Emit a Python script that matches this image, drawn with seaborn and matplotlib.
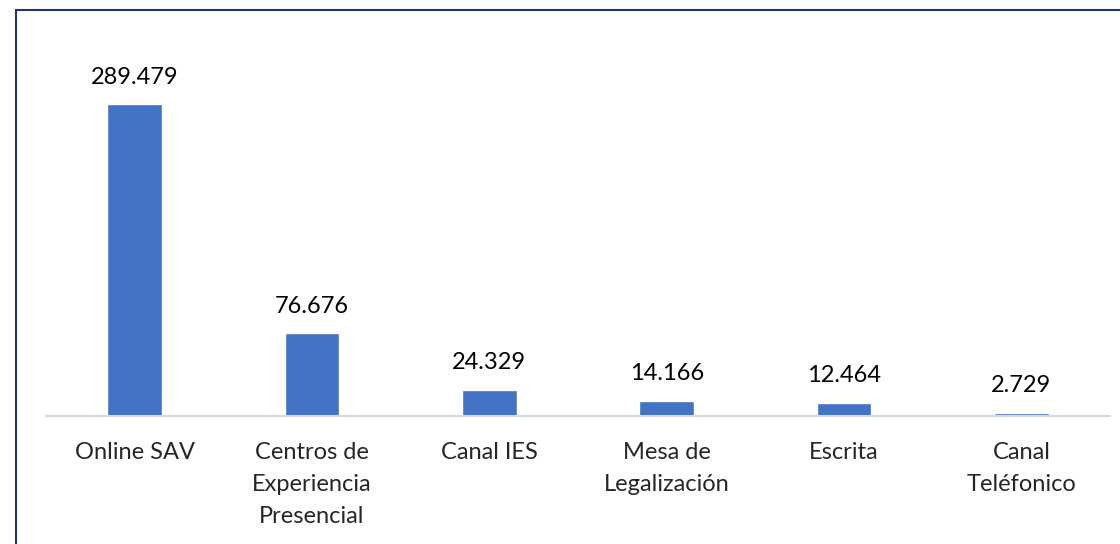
import matplotlib
matplotlib.use("Agg")
import matplotlib.pyplot as plt
import matplotlib.patches as mpatches
import pandas as pd
import seaborn as sns

# Data
categories = ["Online SAV", "Centros de\nExperiencia\nPresencial", "Canal IES",
              "Mesa de\nLegalización", "Escrita", "Canal\nTeléfonico"]
values = [289479, 76676, 24329, 14166, 12464, 2729]
value_labels = ["289.479", "76.676", "24.329", "14.166", "12.464", "2.729"]

df = pd.DataFrame({"Canal": categories, "Total": values})

sns.set_theme(style="white")
plt.rcParams["font.family"] = ["Lato", "DejaVu Sans"]

fig = plt.figure(figsize=(11.2, 5.44), dpi=100)
ax = fig.add_axes([46 / 1120, 128 / 544, 1064 / 1120, 377 / 544])

sns.barplot(data=df, x="Canal", y="Total", color="#4472C4", saturation=1,
            width=0.31, ax=ax)

ax.set_ylim(0, 350000)
ax.set_xlim(-0.5, len(categories) - 0.5)
ax.set_xlabel("")
ax.set_ylabel("")
ax.set_yticks([])
for side in ["top", "right", "left"]:
    ax.spines[side].set_visible(False)
ax.spines["bottom"].set_color("#D9D9D9")
ax.spines["bottom"].set_linewidth(1.5)
ax.tick_params(axis="x", length=0, pad=19, labelsize=17)
for lbl in ax.get_xticklabels():
    lbl.set_linespacing(1.65)
    lbl.set_verticalalignment("top")

# value labels above bars
for bar, txt in zip(ax.patches, value_labels):
    ax.annotate(txt, (bar.get_x() + bar.get_width() / 2, bar.get_height()),
                xytext=(0, 12), textcoords="offset points",
                ha="center", va="bottom", fontsize=17, color="black")

# dark border around chart area (clipped on right/bottom like the reference)
border = mpatches.Rectangle((16 / 1120, -0.05), 1.1, 1 - 10 / 544 + 0.05,
                            transform=fig.transFigure, fill=False,
                            edgecolor="#1F3864", linewidth=1.5)
fig.patches.append(border)

fig.savefig("out.png", dpi=100)
